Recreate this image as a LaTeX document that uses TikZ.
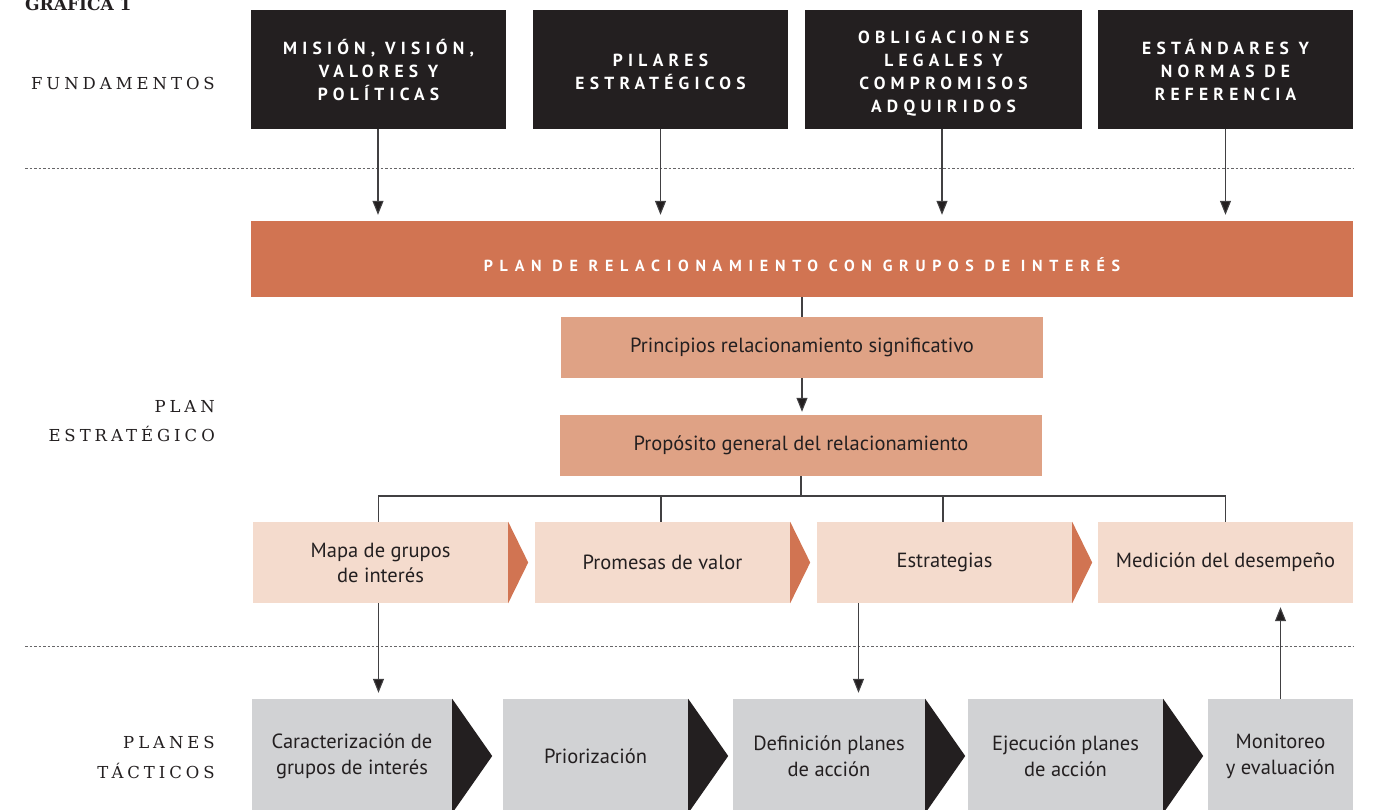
\documentclass[tikz,border=0pt]{standalone}
\usepackage{fontspec}
\setmainfont{PT Sans}
\newfontfamily\sidefont[LetterSpace=24]{DejaVu Serif}
\newfontfamily\headfont[LetterSpace=30]{PT Sans}
\newfontfamily\barfont[LetterSpace=42]{PT Sans}
\newfontfamily\titlefont{DejaVu Serif}
\usepackage{tikz}
\usetikzlibrary{positioning,arrows.meta}
\definecolor{inkblack}{HTML}{231F20}
\definecolor{rust}{HTML}{D17452}
\definecolor{salmon}{HTML}{DFA285}
\definecolor{blush}{HTML}{F4DBCD}
\definecolor{fog}{HTML}{D1D2D4}
\definecolor{wire}{HTML}{414042}
\newcommand{\headlines}[1]{\raisebox{-4pt}[\height][\depth]{\begin{tabular}{@{}c@{}}#1\end{tabular}}}

\begin{document}
\begin{tikzpicture}[x=1pt,y=-1pt,
  every node/.style={inner sep=0pt},
  fund/.style={fill=inkblack,text=white,minimum width=255pt,minimum height=119pt,align=center,font=\headfont\bfseries\fontsize{17.5}{23}\selectfont},
  bar/.style={fill=rust,text=white,minimum width=1102pt,minimum height=76pt,font=\barfont\bfseries\fontsize{16}{18}\selectfont},
  mid/.style={fill=salmon,text=inkblack,minimum width=482pt,minimum height=61pt,font=\fontsize{20.5}{25}\selectfont},
  soft/.style={fill=blush,text=inkblack,minimum width=255pt,minimum height=81pt,align=center,font=\fontsize{20.5}{25}\selectfont},
  grey/.style={fill=fog,text=inkblack,minimum height=114pt,align=center,font=\fontsize{20.5}{26}\selectfont},
  side/.style={anchor=east,align=right,text=inkblack,font=\sidefont\fontsize{16.5}{29}\selectfont},
  link/.style={draw=wire,line width=1.1pt},
  arr/.style={link,-{Triangle[width=11pt,length=14pt,fill=inkblack]}},
  sep/.style={draw=wire!80,line width=0.9pt,dash pattern=on 2.5pt off 2pt}]
\useasboundingbox (0,0) rectangle (1374,809);
\node[anchor=base west,text=inkblack,font=\titlefont\bfseries\fontsize{17}{20}\selectfont] (title) at (25,10) {GRAFICA 1};
\node[side] (s1) at (215,83) {FUNDAMENTOS};
\node[side] (s2) at (215,421) {PLAN\\ESTRATÉGICO};
\node[side,font=\sidefont\fontsize{16.5}{30}\selectfont] (s3) at (215,757) {PLANES\\TÁCTICOS};
\draw[sep] (25,168) -- (1353,168);
\draw[sep] (25,646) -- (1353,646);
\node[fund] (f1) at (378.5,69) {\headlines{MISIÓN, VISIÓN,\\VALORES Y\\POLÍTICAS}};
\node[fund] (f2) at (660.5,69) {\headlines{PILARES\\ESTRATÉGICOS}};
\node[fund,minimum width=277pt] (f3) at (943.5,69) {\headlines{OBLIGACIONES\\LEGALES Y\\COMPROMISOS\\ADQUIRIDOS}};
\node[fund] (f4) at (1225.5,69) {\headlines{ESTÁNDARES Y\\NORMAS DE\\REFERENCIA}};
\node[bar] (plan) at (802,259) {\raisebox{-6pt}[\height][\depth]{PLAN DE RELACIONAMIENTO CON GRUPOS DE INTERÉS}};
\node[mid] (p1) at (802,347.5) {Principios relacionamiento significativo};
\node[mid] (p2) at (801,445.5) {Propósito general del relacionamiento};
\node[soft] (m1) at (380.5,562.5) {Mapa de grupos\\de interés};
\node[soft] (m2) at (662.5,562.5) {Promesas de valor};
\node[soft] (m3) at (944.5,562.5) {Estrategias};
\node[soft] (m4) at (1225.5,562.5) {Medición del desempeño};
\node[grey,minimum width=200pt] (t1) at (352,756) {Caracterización de\\grupos de interés};
\node[grey,minimum width=185pt] (t2) at (595.5,756) {Priorización};
\node[grey,minimum width=192pt] (t3) at (829,756) {Definición planes\\de acción};
\node[grey,minimum width=195pt] (t4) at (1065.5,756) {Ejecución planes\\de acción};
\node[grey,minimum width=145pt] (t5) at (1280.5,756) {Monitoreo\\y evaluación};
\fill[rust] (m1.north east) -- ([xshift=20pt]m1.east) -- (m1.south east);
\fill[rust] (m2.north east) -- ([xshift=20pt]m2.east) -- (m2.south east);
\fill[rust] (m3.north east) -- ([xshift=20pt]m3.east) -- (m3.south east);
\fill[inkblack] (t1.north east) -- ([xshift=40pt]t1.east) -- (t1.south east);
\fill[inkblack] (t2.north east) -- ([xshift=40pt]t2.east) -- (t2.south east);
\fill[inkblack] (t3.north east) -- ([xshift=40pt]t3.east) -- (t3.south east);
\fill[inkblack] (t4.north east) -- ([xshift=40pt]t4.east) -- (t4.south east);
\draw[arr,shorten >=6pt] ([xshift=-0.5pt]f1.south) -- ([xshift=-0.5pt]f1.south |- plan.north);
\draw[arr,shorten >=6pt] (f2.south) -- (f2.south |- plan.north);
\draw[arr,shorten >=6pt] ([xshift=-1.5pt]f3.south) -- ([xshift=-1.5pt]f3.south |- plan.north);
\draw[arr,shorten >=6pt] (f4.south) -- (f4.south |- plan.north);
\draw[link] (plan.south) -- (p1.north);
\draw[arr,shorten >=3pt] (p1.south) -- (p1.south |- p2.north);
\coordinate (hub) at (801,496);
\draw[link] (p2.south) -- (hub);
\draw[link] ([xshift=-2pt]m1.north) -- ([xshift=-2pt]m1.north |- hub) -- (m4.north |- hub) -- (m4.north);
\draw[link] ([xshift=-1.5pt]m2.north) -- ([xshift=-1.5pt]m2.north |- hub);
\draw[link] ([xshift=-1.5pt]m3.north) -- ([xshift=-1.5pt]m3.north |- hub);
\draw[arr,shorten >=6pt] ([xshift=-2pt]m1.south) -- ([xshift=-2pt]m1.south |- t1.north);
\draw[arr,shorten >=6pt] ([xshift=-86pt]m3.south) -- ([xshift=-86pt]m3.south |- t3.north);
\draw[arr,shorten >=4pt] (t5.north) -- (t5.north |- m4.south);
\end{tikzpicture}
\end{document}
